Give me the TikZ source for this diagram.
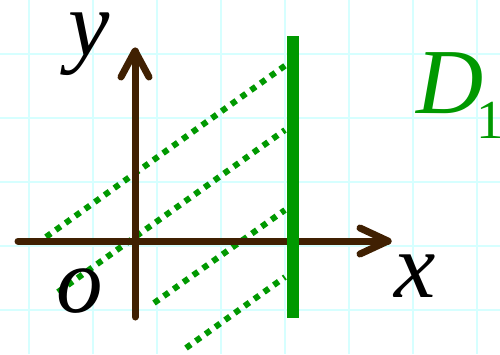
\documentclass[tikz,border=0pt]{standalone}
\usepackage{fontspec}
\setmainfont{Liberation Serif}
\begin{document}
\begin{tikzpicture}[x=1pt,y=-1pt]
\definecolor{gridc}{RGB}{214,255,255}
\definecolor{axisc}{RGB}{64,32,2}
\definecolor{greenc}{RGB}{0,153,0}
\tikzset{
  gridline/.style={draw=gridc,line width=1.5pt},
  axisline/.style={draw=axisc,line width=7pt,line cap=round,line join=round},
  dotline/.style={draw=greenc,line width=6pt,dash pattern=on 6pt off 6pt},
  biglabel/.style={inner sep=0pt,font=\fontsize{93}{93}\selectfont\itshape,text height=0.5em,text depth=0.2em},
}
\useasboundingbox (0,0) rectangle (500,354);
\fill[white] (0,0) rectangle (500,354);
% grid
\foreach \gx in {29,93,157,221,285,349,413,477} \draw[gridline] (\gx,0) -- (\gx,354);
\foreach \gy in {54,118,182,246,310} \draw[gridline] (0,\gy) -- (500,\gy);
% dotted lines
\coordinate (a1) at (46,237); \coordinate (b1) at (286,65);
\coordinate (a2) at (58,292); \coordinate (b2) at (285,130);
\coordinate (a3) at (154,303); \coordinate (b3) at (285,210);
\coordinate (a4) at (186,348); \coordinate (b4) at (285,277);
\draw[dotline] (a1) -- (b1);
\draw[dotline] (a2) -- (b2);
\draw[dotline] (a3) -- (b3);
\draw[dotline] (a4) -- (b4);
% axes
\coordinate (xs) at (18,241); \coordinate (xe) at (388,241);
\coordinate (ys) at (135,317); \coordinate (ye) at (135,51);
\draw[axisline] (xs) -- (xe);
\draw[axisline] (360,228) -- (xe) -- (360,254);
\draw[axisline] (ys) -- (ye);
\draw[axisline] (121,77) -- (ye) -- (149,77);
% green line D1
\coordinate (dt) at (293,36); \coordinate (db) at (293,318);
\draw[greenc,line width=12pt] (dt) -- (db);
% labels
\node[biglabel,anchor=base] (ylab) at (89,55) {y};
\node[biglabel,anchor=base] (olab) at (80,312) {o};
\node[biglabel,anchor=base] (xlab) at (415,297) {x};
\node[biglabel,anchor=base west,text=greenc,text height=0.7em] (dlab) at (416,113) {D\kern-7pt\raisebox{-25pt}{\fontsize{55}{55}\selectfont\upshape 1}};
\end{tikzpicture}
\end{document}
